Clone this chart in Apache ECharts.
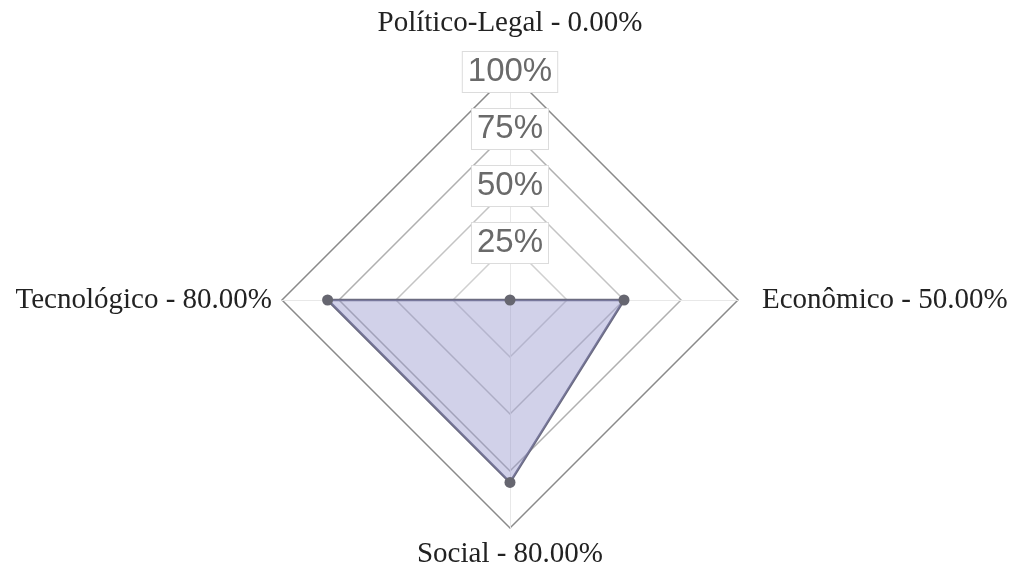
<!DOCTYPE html>
<html><head><meta charset="utf-8">
<script src="https://cdn.jsdelivr.net/npm/echarts@6/dist/echarts.min.js"></script>
<style>html,body{margin:0;padding:0;background:#fff}#c{width:1014px;height:569px}</style>
</head><body><div id="c"></div>
<script>
// indicators listed counter-clockwise from the top (ECharts radar order)
const indicatorNames = ['Político-Legal', 'Tecnológico', 'Social', 'Econômico'];
const indicatorMax = [100, 100, 100, 100];
const values = [0, 80, 80, 50];
const tickValues = [0, 25, 50, 75, 100];

const nameStyles = ['top', 'left', 'bottom', 'right'];
const chart = echarts.init(document.getElementById('c'));
const serif = { fontFamily: 'Liberation Serif', fontSize: 29, color: '#222' };
chart.setOption({
  animation: false,
  radar: {
    center: [510, 300],
    radius: 228,
    shape: 'polygon',
    startAngle: 90,
    splitNumber: tickValues.length - 1,
    nameGap: 10,
    axisName: {
      color: '#222',
      fontFamily: 'Liberation Serif',
      fontSize: 29,
      formatter: function (name) {
        const i = indicatorNames.indexOf(name);
        const v = values[i].toFixed(2);
        return '{' + nameStyles[i] + '|' + name + ' - ' + v + '%}';
      },
      rich: {
        top: Object.assign({ padding: [0, 0, 24, 0] }, serif),
        left: Object.assign({ padding: [0, 0, 0, 0] }, serif),
        bottom: Object.assign({ padding: [2, 0, 0, 0] }, serif),
        right: Object.assign({ padding: [0, 0, 0, 14] }, serif)
      }
    },
    indicator: indicatorNames.map(function (n, i) {
      const o = { name: n, max: indicatorMax[i], min: 0 };
      if (i === 0) {
        o.axisLabel = { show: true };
      }
      return o;
    }),
    axisLabel: {
      show: false,
      showMinLabel: false,
      margin: 0,
      align: 'center',
      verticalAlign: 'middle',
      fontFamily: 'Liberation Sans',
      fontSize: 33,
      color: '#6a6a6a',
      backgroundColor: '#fff',
      borderColor: '#dcdcdc',
      borderWidth: 1,
      padding: [4, 5, 3, 5],
      formatter: function (v) { return v + '%'; }
    },
    axisLine: { lineStyle: { color: '#e8e8e8', width: 1 } },
    axisTick: { show: false },
    splitLine: { lineStyle: { color: ['#d0d0d0', '#d0d0d0', '#c4c4c4', '#b0b0b0', '#8a8a8a'], width: 1.5 } },
    splitArea: { show: false }
  },
  series: [{
    type: 'radar',
    symbol: 'circle',
    symbolSize: 11,
    itemStyle: { color: '#666670' },
    lineStyle: { color: '#6b6b80', width: 2.5 },
    areaStyle: { color: 'rgba(140,140,200,0.4)', opacity: 1 },
    data: [{ value: values }]
  }]
});
</script></body></html>
